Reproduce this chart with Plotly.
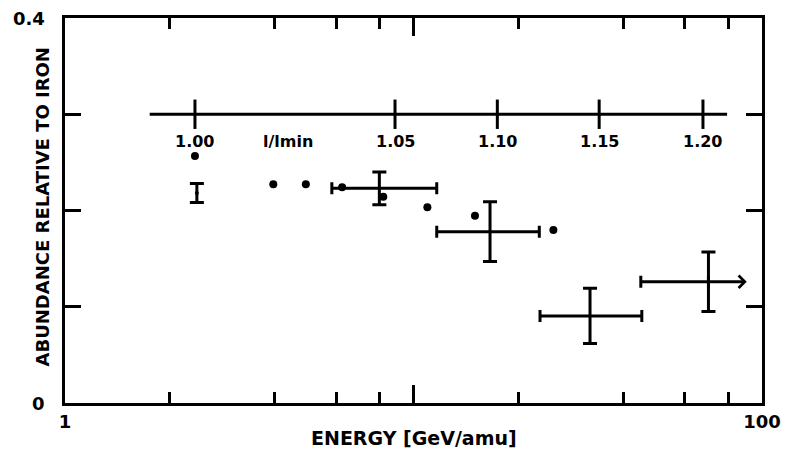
import numpy as np
import plotly.graph_objects as go

# ---- data ----
# l/lmin points (energy GeV/amu, abundance)
dot_energy = [2.36, 3.96, 4.91, 6.24, 8.19, 10.96, 15.01, 25.2]
dot_abund = [0.2566, 0.2272, 0.2272, 0.2241, 0.2143, 0.2033, 0.1946, 0.1797]

# small error bar near 1.00
small_energy = [2.39]
small_abund = [0.2182]
small_err = [0.0099]

# measured energy bins
bin_center = [7.98, 16.58, 32.1, 70.2]
bin_low = [5.83, 11.66, 23.07, 44.9]
bin_high = [11.66, 22.96, 45.2, 90.4]
bin_open = [False, False, False, True]  # last bin is open-ended (arrow)
bin_abund = [0.2231, 0.178, 0.0904, 0.126]
bin_err = [0.017, 0.031, 0.0287, 0.031]

# inset l/lmin scale
inset_level = 0.3
inset_span = [1.75, 79.4]
inset_tick_energy = [2.36, 8.85, 17.4, 34.1, 67.7]
inset_tick_labels = ["1.00", "1.05", "1.10", "1.15", "1.20"]
inset_name = "l/lmin"
inset_name_energy = 4.37

# axes
x_ticks = [1, 2, 4, 6, 8, 10, 20, 40, 60, 80, 100]
x_tick_text = ["1", "", "", "", "", "", "", "", "", "", "100"]
x_long_ticks = [10]
y_ticks = [0, 0.1, 0.2, 0.3, 0.4]
y_tick_text = ["0", "", "", "", "0.4"]

FONT = "DejaVu Sans"
BLACK = "black"

fig = go.Figure()

# inset axis line and ticks (drawn on overlay axes sharing the same log scale)
fig.add_trace(go.Scatter(x=inset_span, y=[inset_level] * 2, mode="lines",
                         xaxis="x2",
                         line=dict(color=BLACK, width=3), hoverinfo="skip"))
fig.add_trace(go.Scatter(x=inset_tick_energy, y=[inset_level] * len(inset_tick_energy),
                         mode="markers", xaxis="x3",
                         marker=dict(symbol="line-ns", size=21,
                                     line=dict(color=BLACK, width=3)),
                         hoverinfo="skip"))

# dots
fig.add_trace(go.Scatter(x=dot_energy, y=dot_abund, mode="markers",
                         marker=dict(color=BLACK, size=8)))

# small error bar
fig.add_trace(go.Scatter(x=small_energy, y=small_abund, mode="markers", xaxis="x4",
                         marker=dict(color=BLACK, size=4),
                         error_y=dict(type="data", array=small_err, color=BLACK,
                                      thickness=3, width=7)))

# bin crosses
plus = [0 if o else h - c for h, c, o in zip(bin_high, bin_center, bin_open)]
minus = [c - l for c, l in zip(bin_center, bin_low)]
fig.add_trace(go.Scatter(x=bin_center, y=bin_abund, mode="markers",
                         marker=dict(color=BLACK, size=3),
                         error_y=dict(type="data", array=bin_err, color=BLACK,
                                      thickness=3, width=7),
                         error_x=dict(type="data", symmetric=False, array=plus,
                                      arrayminus=minus, color=BLACK,
                                      thickness=3, width=6)))

annotations = []
# arrows for open bins
for c, h, a, o in zip(bin_center, bin_high, bin_abund, bin_open):
    if o:
        annotations.append(dict(x=np.log10(h), y=a, ax=np.log10(c), ay=a,
                                xref="x", yref="y", axref="x", ayref="y",
                                showarrow=True, arrowhead=4, arrowsize=0.8,
                                arrowwidth=3, arrowcolor=BLACK, text=""))

# inset labels
for e, t in zip(inset_tick_energy, inset_tick_labels):
    annotations.append(dict(x=np.log10(e), y=inset_level, xref="x", yref="y",
                            text="<b>%s</b>" % t, showarrow=False, yshift=-27,
                            font=dict(family=FONT, size=16, color=BLACK)))
annotations.append(dict(x=np.log10(inset_name_energy), y=inset_level, xref="x", yref="y",
                        text="<b>%s</b>" % inset_name, showarrow=False, yshift=-27,
                        font=dict(family=FONT, size=16, color=BLACK)))

# y tick labels (only the ends are labelled)
for v, t in zip(y_ticks, y_tick_text):
    if t:
        annotations.append(dict(x=0, y=v, xref="paper", yref="y", xanchor="right",
                                yanchor="middle", xshift=-18, text="<b>%s</b>" % t,
                                showarrow=False,
                                font=dict(family=FONT, size=18, color=BLACK)))

# axis titles
annotations.append(dict(x=0.5, y=0, xref="paper", yref="paper", yanchor="middle",
                        yshift=-35, text="<b>ENERGY [GeV/amu]</b>", showarrow=False,
                        font=dict(family=FONT, size=19, color=BLACK)))
annotations.append(dict(x=0, y=0.5, xref="paper", yref="paper", xanchor="center",
                        yanchor="middle", xshift=-23, yshift=3, textangle=-90,
                        text="<b>ABUNDANCE RELATIVE TO IRON</b>", showarrow=False,
                        font=dict(family=FONT, size=18, color=BLACK)))


def overlay_axis(side, vals, length):
    return dict(type="log", range=[0, 2], overlaying="x", anchor="y", side=side,
                ticks="inside", tickvals=vals, ticklen=length, tickwidth=3,
                tickcolor=BLACK, showticklabels=False, showgrid=False)


fig.update_layout(
    width=791, height=451,
    margin=dict(l=65, r=29, t=18, b=48, autoexpand=False),
    paper_bgcolor="white", plot_bgcolor="white",
    showlegend=False,
    annotations=annotations,
    font=dict(family=FONT, color=BLACK),
    xaxis=dict(type="log", range=[0, 2], showgrid=False,
               showline=True, linecolor=BLACK, linewidth=3, mirror="ticks",
               ticks="inside", tickvals=x_ticks,
               ticktext=["<b>%s</b>" % t if t else "" for t in x_tick_text],
               ticklen=11, tickwidth=3, tickcolor=BLACK,
               tickfont=dict(family=FONT, size=18, color=BLACK)),
    xaxis2=overlay_axis("bottom", x_long_ticks, 18),
    xaxis3=overlay_axis("top", x_ticks, 11),
    xaxis4=overlay_axis("top", x_long_ticks, 18),
    yaxis=dict(range=[0, 0.4], showgrid=False, zeroline=False,
               showline=True, linecolor=BLACK, linewidth=3, mirror="ticks",
               ticks="inside", tickvals=y_ticks, showticklabels=False,
               ticklen=16, tickwidth=3, tickcolor=BLACK),
)

fig.write_html("out.html", config={"displayModeBar": False},
               post_script="document.body.style.margin='0';")
